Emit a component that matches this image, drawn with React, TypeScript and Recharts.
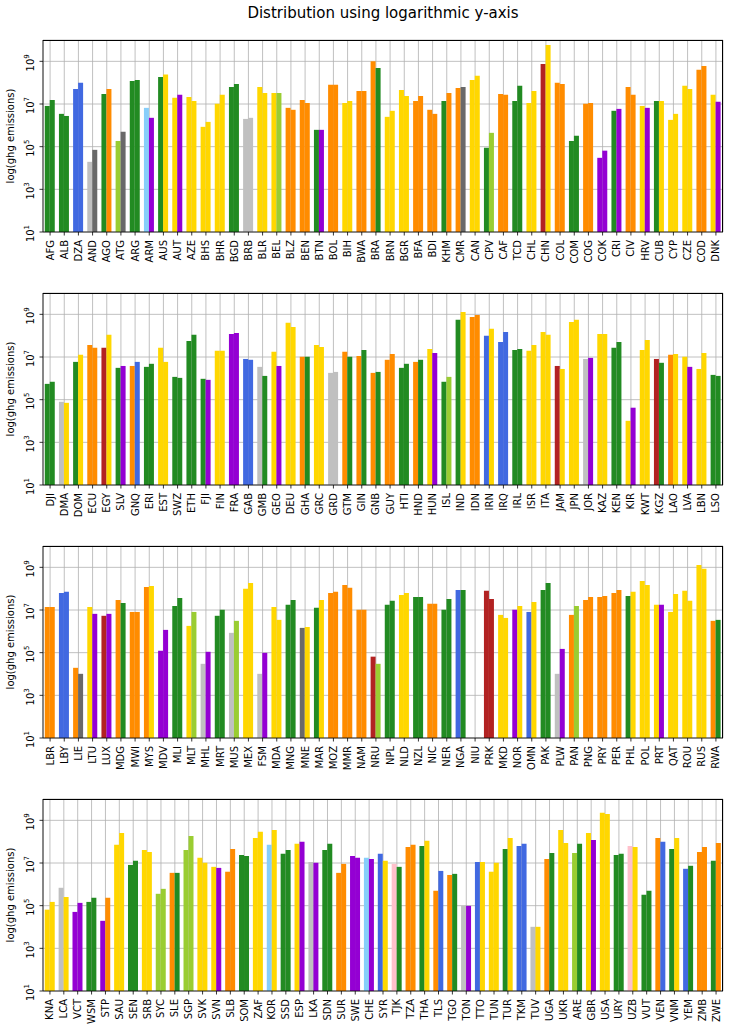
import React from 'react';
import { BarChart, Bar, Cell, XAxis, YAxis, CartesianGrid } from 'recharts';

// colour codes used by the cell arrays below
const palette: Record<string, string> = {
  g: '#228b22', // forestgreen
  b: '#4169e1', // royalblue
  s: '#c0c0c0', // silver
  d: '#696969', // dimgray
  o: '#ff8c00', // darkorange
  y: '#ffd700', // gold
  l: '#9acd32', // yellowgreen
  k: '#87cefa', // lightskyblue
  v: '#9400d3', // darkviolet
  r: '#b22222', // firebrick
  p: '#ffc0cb', // pink
};

// ---- panel 1 ----
const codes1 = ['AFG','ALB','DZA','AND','AGO','ATG','ARG','ARM','AUS','AUT','AZE','BHS','BHR','BGD','BRB','BLR','BEL','BLZ','BEN','BTN','BOL','BIH','BWA','BRA','BRN','BGR','BFA','BDI','KHM','CMR','CAN','CPV','CAF','TCD','CHL','CHN','COL','COM','COG','COK','CRI','CIV','HRV','CUB','CYP','CZE','COD','DNK'];
const first1 = [8.1e6,3.45e6,5.1e7,1.95e4,2.95e7,1.85e5,1.2e8,6.6e6,1.85e8,1.95e7,2.15e7,8.5e5,1.02e7,6.3e7,2.0e6,6.3e7,3.3e7,6.6e6,1.55e7,6.15e5,7.95e7,1.12e7,4.1e7,1.0e9,2.5e6,4.55e7,1.4e7,5.35e6,1.4e7,5.6e7,1.35e8,8.9e4,2.95e7,1.4e7,1.12e7,7.6e8,9.8e7,1.85e5,1.02e7,3.0e4,4.8e6,6.3e7,8.1e6,1.4e7,1.8e6,7.1e7,4.0e8,2.7e7];
const second1 = [1.55e7,2.75e6,9.8e7,7.1e4,5.1e7,5.0e5,1.35e8,2.25e6,2.4e8,2.7e7,1.4e7,1.45e6,2.7e7,8.7e7,2.25e6,3.3e7,3.3e7,5.35e6,1.12e7,6.15e5,7.95e7,1.4e7,4.1e7,4.9e8,4.8e6,2.4e7,2.4e7,3.45e6,3.3e7,6.3e7,2.1e8,4.45e5,2.7e7,7.1e7,4.1e7,5.9e9,8.7e7,3.25e5,1.12e7,6.5e4,5.9e6,2.7e7,6.6e6,1.4e7,3.45e6,5.1e7,6.0e8,1.26e7];
const firstColors1 = ['g','g','b','s','g','l','g','k','g','y','y','y','y','g','s','y','y','o','o','g','o','y','o','o','y','y','o','o','g','o','y','g','o','g','y','r','o','g','o','v','g','o','y','g','y','y','o','y'];
const secondColors1 = ['g','g','b','d','o','d','g','v','y','v','y','y','y','g','s','y','l','o','o','v','o','y','o','g','y','y','o','o','o','d','y','l','o','g','y','y','o','g','o','v','v','o','v','y','y','y','o','v'];

// ---- panel 2 ----
const codes2 = ['DJI','DMA','DOM','ECU','EGY','SLV','GNQ','ERI','EST','SWZ','ETH','FJI','FIN','FRA','GAB','GMB','GEO','DEU','GHA','GRC','GRD','GTM','GIN','GNB','GUY','HTI','HND','HUN','ISL','IND','IDN','IRN','IRQ','IRL','ISR','ITA','JAM','JPN','JOR','KAZ','KEN','KIR','KWT','KGZ','LAO','LVA','LBN','LSO'];
const first2 = [5.5e5,7.95e4,5.9e6,3.7e7,2.7e7,3.1e6,3.8e6,3.45e6,2.7e7,1.17e6,5.6e7,9.5e5,1.95e7,1.2e8,8.1e6,3.45e6,1.75e7,4.0e8,1.02e7,3.7e7,1.8e6,1.75e7,1.12e7,1.8e6,7.4e6,3.1e6,5.9e6,2.4e7,6.9e5,5.5e8,7.6e8,9.8e7,5.1e7,2.15e7,1.95e7,1.5e8,3.8e6,4.35e8,8.1e6,1.2e8,2.7e7,1.02e4,2.15e7,8.1e6,1.26e7,1.02e7,2.75e6,1.45e6];
const second2 = [6.9e5,7.1e4,1.26e7,2.7e7,1.1e8,3.8e6,5.9e6,4.8e6,5.9e6,1.05e6,1.1e8,8.5e5,1.95e7,1.35e8,7.4e6,1.3e6,3.8e6,2.55e8,1.02e7,2.95e7,2.0e6,1.02e7,2.15e7,2.0e6,1.4e7,4.8e6,7.4e6,1.55e7,1.17e6,1.3e9,9.3e8,2.1e8,1.5e8,2.4e7,3.7e7,1.1e8,2.75e6,5.5e8,9.1e6,1.2e8,5.1e7,4.2e4,6.3e7,5.35e6,1.4e7,3.45e6,1.55e7,1.3e6];
const firstColors2 = ['g','s','g','o','r','g','o','g','y','g','g','g','y','v','b','s','y','y','o','y','s','o','o','o','o','g','o','y','g','g','o','b','b','g','y','y','r','y','s','y','g','y','y','r','o','y','y','g'];
const secondColors2 = ['g','y','y','o','y','v','b','g','y','g','g','v','y','v','b','g','v','y','g','y','s','g','g','g','o','g','g','v','l','y','o','y','b','g','y','y','y','y','v','y','g','v','y','g','y','v','y','g'];

// ---- panel 3 ----
const codes3 = ['LBR','LBY','LIE','LTU','LUX','MDG','MWI','MYS','MDV','MLI','MLT','MHL','MRT','MUS','MEX','FSM','MDA','MNG','MNE','MAR','MOZ','MMR','NAM','NRU','NPL','NLD','NZL','NIC','NER','NGA','NIU','PRK','MKD','NOR','OMN','PAK','PLW','PAN','PNG','PRY','PER','PHL','POL','PRT','QAT','ROU','RUS','RWA'];
const first3 = [1.4e7,6.3e7,1.95e4,1.4e7,5.35e6,2.95e7,8.1e6,1.2e8,1.23e5,1.55e7,1.8e6,3.0e4,5.35e6,8.5e5,9.8e7,1.02e4,1.4e7,1.75e7,1.45e6,1.26e7,6.3e7,1.5e8,1.02e7,6.5e4,1.75e7,5.1e7,4.1e7,1.95e7,1.02e7,8.7e7,null,7.95e7,5.9e6,1.02e7,8.1e6,8.7e7,1.02e4,5.9e6,2.95e7,4.1e7,6.3e7,4.55e7,2.3e8,1.75e7,8.1e6,7.95e7,1.3e9,3.1e6];
const second3 = [1.4e7,7.1e7,1.02e4,6.6e6,6.6e6,2.15e7,8.1e6,1.35e8,1.17e6,3.7e7,8.1e6,1.1e5,1.02e7,3.1e6,1.85e8,9.8e4,3.45e6,2.95e7,1.6e6,2.95e7,7.1e7,1.1e8,1.02e7,3.0e4,2.7e7,6.3e7,4.1e7,1.95e7,3.3e7,8.7e7,null,3.3e7,4.25e6,1.55e7,2.4e7,1.85e8,1.5e5,1.55e7,4.1e7,4.55e7,8.7e7,7.1e7,1.5e8,1.75e7,5.6e7,2.7e7,8.5e8,3.45e6];
const firstColors3 = ['o','b','o','y','r','o','o','o','v','g','y','s','g','s','y','s','y','g','d','g','o','o','o','r','g','y','g','o','g','b','g','r','y','v','b','g','s','o','o','o','o','g','y','y','y','y','y','o'];
const secondColors3 = ['o','b','d','v','v','g','o','y','v','g','l','v','g','l','y','v','y','g','y','y','o','o','o','l','g','y','g','o','g','g','g','r','y','y','y','g','v','l','o','o','o','y','y','v','y','y','y','g'];

// ---- panel 4 ----
const codes4 = ['KNA','LCA','VCT','WSM','STP','SAU','SEN','SRB','SYC','SLE','SGP','SVK','SVN','SLB','SOM','ZAF','KOR','SSD','ESP','LKA','SDN','SUR','SWE','CHE','SYR','TJK','TZA','THA','TLS','TGO','TON','TTO','TUN','TUR','TKM','TUV','UGA','UKR','ARE','GBR','USA','URY','UZB','VUT','VEN','VNM','YEM','ZMB','ZWE'];
const first4 = [6.5e4,6.9e5,5.1e4,1.5e5,1.95e4,7.1e7,8.1e6,4.1e7,3.6e5,3.45e6,4.1e7,1.75e7,6.6e6,3.9e6,2.4e7,1.5e8,7.1e7,2.7e7,7.95e7,1.12e7,4.1e7,3.45e6,2.15e7,1.75e7,2.7e7,9.1e6,5.6e7,6.3e7,5.0e5,2.75e6,9.8e4,1.12e7,3.9e6,4.55e7,6.3e7,1.02e4,1.55e7,3.55e8,2.95e7,2.55e8,2.25e9,2.4e7,6.3e7,3.25e5,1.5e8,4.55e7,5.35e6,3.3e7,1.26e7];
const second4 = [1.5e5,2.55e5,1.35e5,2.35e5,2.35e5,2.55e8,1.26e7,3.3e7,6.15e5,3.45e6,1.85e8,1.02e7,5.9e6,4.55e7,2.15e7,2.9e8,3.55e8,4.1e7,9.8e7,1.02e7,7.95e7,9.1e6,1.75e7,1.55e7,1.26e7,6.6e6,7.1e7,1.1e8,4.25e6,3.1e6,9.8e4,1.12e7,1.02e7,1.5e8,7.95e7,1.02e4,2.95e7,8.7e7,7.95e7,1.2e8,2.0e9,2.7e7,5.6e7,5.0e5,9.8e7,1.5e8,7.4e6,5.6e7,8.7e7];
const firstColors4 = ['y','s','v','g','v','y','g','y','l','o','l','y','y','o','g','y','k','g','y','s','g','o','v','k','b','p','o','g','o','o','s','b','y','g','b','s','o','y','l','y','y','g','p','g','o','g','b','o','g'];
const secondColors4 = ['y','y','v','g','o','y','g','y','l','g','l','y','v','o','g','y','y','g','v','v','g','o','v','v','y','g','o','y','b','g','v','y','y','y','b','y','g','y','g','v','y','g','y','g','b','y','g','o','o'];

const yTicks = [1e1, 1e3, 1e5, 1e7, 1e9];

const FONT = 'DejaVu Sans, sans-serif';
const CHART_W = 730;
const CHART_H = 253;
const MARGIN = { top: 10, right: 7, bottom: 0, left: 0 };
const Y_AXIS_W = 43;
const X_AXIS_H = 51;

const XTick = (props: any) => {
  const { x, y, payload } = props;
  return (
    <g transform={`translate(${x},${y})`}>
      <text transform="rotate(-90)" textAnchor="end" dy="0.35em" fontSize={10} fontFamily={FONT} fill="#000">
        {payload.value}
      </text>
    </g>
  );
};

const YTick = (props: any) => {
  const { y, payload } = props;
  const exp = Math.round(Math.log10(payload.value));
  return (
    <g transform={`translate(33.5,${y})`}>
      <text transform="rotate(-90)" textAnchor="middle" x={-1.5} fontSize={10} fontFamily={FONT} fill="#000">
        10
        <tspan dy={-4.3} fontSize={7}>{exp}</tspan>
      </text>
    </g>
  );
};

const YLabel = (props: any) => {
  const cy = MARGIN.top + (CHART_H - MARGIN.top - X_AXIS_H) / 2;
  return (
    <text transform={`translate(14,${cy}) rotate(-90)`} textAnchor="middle" fontSize={10} fontFamily={FONT} fill="#000">
      log(ghg emissions)
    </text>
  );
};

interface PanelProps {
  codes: string[];
  first: (number | null)[];
  second: (number | null)[];
  firstColors: string[];
  secondColors: string[];
  top: number;
}

const Panel: React.FC<PanelProps> = ({ codes, first, second, firstColors, secondColors, top }) => {
  const rows = codes.map((code, i) => ({ code, a: first[i], b: second[i] }));
  const plotW = CHART_W - Y_AXIS_W - MARGIN.right;
  const plotH = CHART_H - MARGIN.top - X_AXIS_H;

  return (
    <div style={{ position: 'absolute', left: 0, top, width: CHART_W, height: CHART_H }}>
      <BarChart
        width={CHART_W}
        height={CHART_H}
        data={rows}
        margin={MARGIN}
        barCategoryGap="12.5%"
        barGap={0}
      >
        <CartesianGrid stroke="#b0b0b0" strokeWidth={0.8} />
        <XAxis
          dataKey="code"
          interval={0}
          height={X_AXIS_H}
          tick={<XTick />}
          tickSize={3.5}
          tickMargin={4.5}
          tickLine={{ stroke: '#000', strokeWidth: 0.8 }}
          axisLine={{ stroke: '#000', strokeWidth: 0.8 }}
        />
        <YAxis
          scale="log"
          domain={[10, 1e10]}
          allowDataOverflow
          ticks={yTicks}
          width={Y_AXIS_W}
          tick={<YTick />}
          tickSize={3.5}
          tickLine={{ stroke: '#000', strokeWidth: 0.8 }}
          axisLine={{ stroke: '#000', strokeWidth: 0.8 }}
          label={<YLabel />}
        />
        <Bar dataKey="a" isAnimationActive={false}>
          {rows.map((r, i) => (
            <Cell key={`a-${r.code}`} fill={palette[firstColors[i]]} />
          ))}
        </Bar>
        <Bar dataKey="b" isAnimationActive={false}>
          {rows.map((r, i) => (
            <Cell key={`b-${r.code}`} fill={palette[secondColors[i]]} />
          ))}
        </Bar>
      </BarChart>
      {/* top and right spines */}
      <div
        style={{
          position: 'absolute',
          left: Y_AXIS_W,
          top: MARGIN.top,
          width: plotW,
          height: plotH,
          borderTop: '0.8px solid #000',
          borderRight: '0.8px solid #000',
          boxSizing: 'border-box',
          pointerEvents: 'none',
        }}
      />
    </div>
  );
};

export default function App() {
  return (
    <div style={{ position: 'absolute', left: 0, top: 0, width: 730, height: 1029, background: '#fff' }}>
      <svg width={730} height={30} style={{ position: 'absolute', left: 0, top: 0 }}>
        <text x={383} y={18} textAnchor="middle" fontSize={15} fontFamily={FONT} fill="#000">
          Distribution using logarithmic y-axis
        </text>
      </svg>
      <Panel codes={codes1} first={first1} second={second1} firstColors={firstColors1} secondColors={secondColors1} top={29.5} />
      <Panel codes={codes2} first={first2} second={second2} firstColors={firstColors2} secondColors={secondColors2} top={282.5} />
      <Panel codes={codes3} first={first3} second={second3} firstColors={firstColors3} secondColors={secondColors3} top={535.5} />
      <Panel codes={codes4} first={first4} second={second4} firstColors={firstColors4} secondColors={secondColors4} top={788.5} />
    </div>
  );
}
